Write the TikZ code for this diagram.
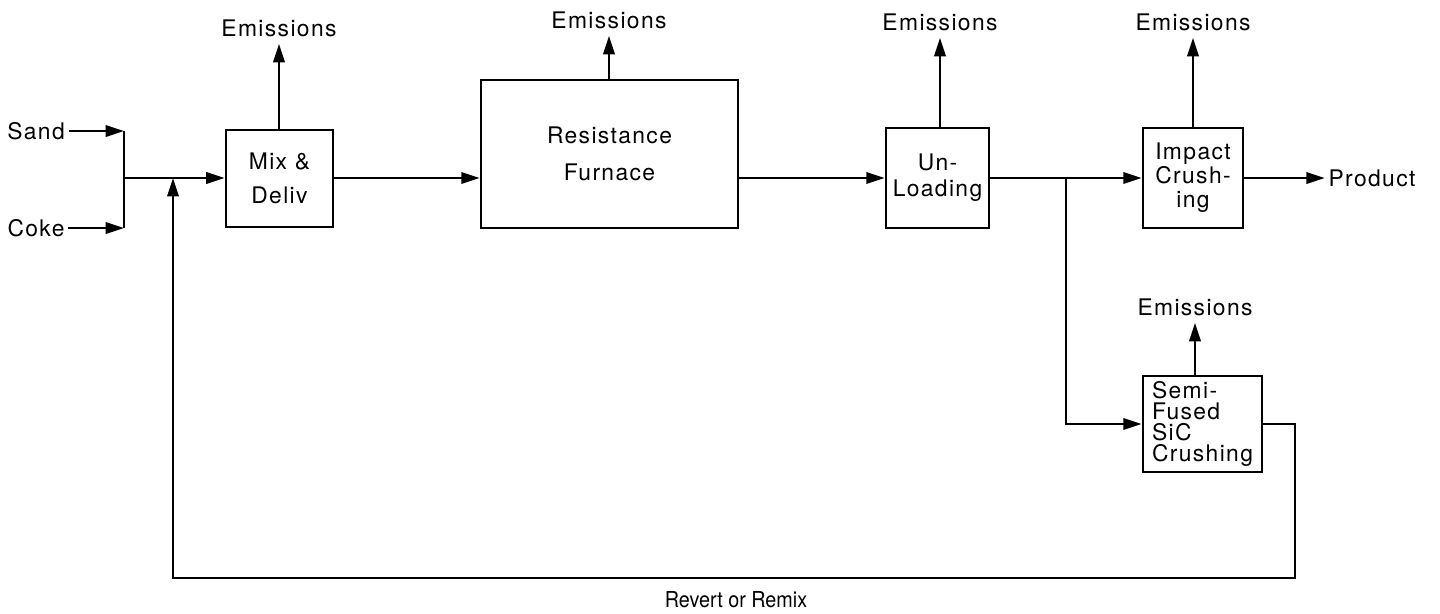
\documentclass[tikz,border=0pt]{standalone}
\usepackage{fontspec}
\setmainfont[LetterSpace=6]{TeX Gyre Heros}
\newfontfamily\plainfont{TeX Gyre Heros}
\usetikzlibrary{arrows.meta}
\tikzset{
  flow/.style={line width=1.35pt, -{Triangle[length=10.5pt,width=6.5pt]}},
  line/.style={line width=1.35pt},
  box/.style={draw, line width=1.5pt, align=center, inner sep=0pt},
  lbl/.style={font=\fontsize{13}{14}\selectfont, inner sep=2pt},
  emis/.style={font=\fontsize{13}{14}\selectfont, inner sep=4pt},
}
\begin{document}
\begin{tikzpicture}[x=0.02cm, y=-0.02cm]
\useasboundingbox (0,0) rectangle (1440,613);
% inputs
\node[lbl] (sand) at (36,131) {Sand};
\node[lbl] (coke) at (36,228) {Coke};
\coordinate (sj) at (124,131);
\coordinate (cj) at (124,228);
\coordinate (j) at (124,178);
\coordinate (rj) at (173,178);
% boxes
\node[box, minimum width=2.14cm, minimum height=1.94cm, font=\fontsize{13}{19.3}\selectfont] (mix) at (279.5,178.5) {Mix \&\\Deliv};
\node[box, minimum width=5.14cm, minimum height=2.96cm, font=\fontsize{13}{21}\selectfont] (furn) at (609.5,154) {Resistance\\Furnace};
\node[box, minimum width=2.06cm, minimum height=2.0cm, font=\fontsize{13}{14.8}\selectfont] (unl) at (937.5,178) {Un-\\Loading};
\node[box, minimum width=2.0cm, minimum height=2.0cm, font=\fontsize{13}{13.7}\selectfont] (imp) at (1193,178) {Impact\\Crush-\\ing};
\node[box, align=left, minimum width=2.38cm, minimum height=1.92cm, font=\fontsize{13}{11.8}\selectfont] (semi) at (1202.5,424) {Semi-\\Fused\\SiC\\Crushing};
% emissions
\node[emis] (e1) at (279,28) {Emissions};
\node[emis] (e2) at (609,20) {Emissions};
\node[emis] (e3) at (940,22) {Emissions};
\node[emis] (e4) at (1193,22) {Emissions};
\node[emis] (e5) at (1195,307) {Emissions};
\draw[flow] (e1.south |- mix.north) -- (e1.south);
\draw[flow] (e2.south |- furn.north) -- (e2.south);
\draw[flow] (e3.south |- unl.north) -- (e3.south);
\draw[flow] (e4.south |- imp.north) -- (e4.south);
\draw[flow] (e5.south |- semi.north) -- (e5.south);
% product
\node[lbl] (prod) at (1372,178) {Product};
% flows
\draw[flow] (sand.east) -- (sj);
\draw[flow] (coke.east) -- (cj);
\draw[line] (sj) -- (cj);
\draw[flow] (j) -- (mix.west |- j);
\draw[flow] (mix.east |- j) -- (furn.west |- j);
\draw[flow] (furn.east |- j) -- (unl.west |- j);
\draw[flow] (unl.east |- j) -- (imp.west |- j);
\draw[flow] (imp.east |- j) -- (prod.west |- j);
\coordinate (b) at (1066,178);
\draw[flow] (b) |- (semi.west);
\coordinate (ro) at (1295,578);
\coordinate (rl) at (173,578);
\draw[flow] (semi.east) -| (ro) -- (rl) -- (rj);
\node[font=\plainfont\fontsize{12.5}{14}\selectfont, xscale=0.9] (rev) at (736,600) {Revert or Remix};
\end{tikzpicture}
\end{document}
